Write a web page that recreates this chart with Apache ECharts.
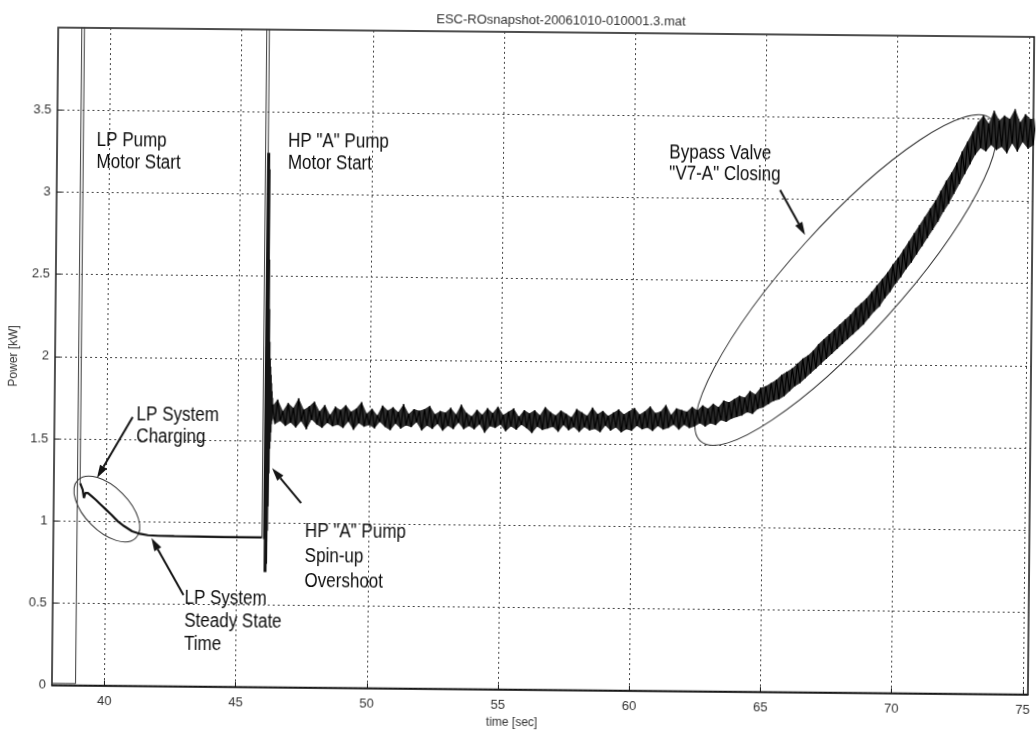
<!DOCTYPE html>
<html>
<head>
<meta charset="utf-8">
<script src="https://cdn.jsdelivr.net/npm/echarts@6/dist/echarts.min.js"></script>
<style>
  html, body { margin: 0; padding: 0; background: #fff; overflow: hidden; }
  #chart { width: 1036px; height: 734px; transform: rotate(0.55deg); transform-origin: 50% 50%; }
</style>
</head>
<body>
<div id="chart"></div>
<script>
// ---- axis ticks ----
const xTicks = [40, 45, 50, 55, 60, 65, 70, 75];
const yTicks = [0, 0.5, 1, 1.5, 2, 2.5, 3, 3.5];

// ---- idle, then LP pump motor start transient (time [s], power [kW]) ----
const lpStartTime  = [38.0, 38.5, 38.9, 38.9, 39.0, 39.0];
const lpStartPower = [0.01, 0.01, 0.01, 6.0, 6.0, 1.23];

// ---- LP system charging and steady state ----
const lpTime  = [39.0, 39.1, 39.15, 39.2, 39.3, 39.45, 39.6, 39.8, 40.0, 40.2, 40.45, 40.7, 41.0, 41.3, 41.6, 42.0, 42.6, 43.5, 44.5, 45.2, 45.95];
const lpPower = [1.23, 1.19, 1.14, 1.17, 1.17, 1.15, 1.13, 1.10, 1.07, 1.04, 1.00, 0.97, 0.94, 0.925, 0.917, 0.914, 0.913, 0.912, 0.910, 0.910, 0.91];

// ---- HP "A" pump motor start transient ----
const hpStartTime  = [45.95, 45.95, 46.05, 46.05];
const hpStartPower = [0.91, 6.0, 6.0, 0.90];

// ---- HP "A" pump spin-up overshoot ----
const hpTime  = [46.05, 46.07, 46.08, 46.09, 46.10, 46.11, 46.12, 46.13, 46.14, 46.15, 46.16, 46.17, 46.18, 46.19, 46.20, 46.21, 46.22, 46.23, 46.24, 46.25, 46.26, 46.27, 46.28, 46.29];
const hpPower = [0.90, 3.25, 0.70, 3.15, 0.75, 2.60, 0.95, 2.30, 1.10, 2.10, 1.30, 2.00, 1.45, 1.95, 1.50, 1.90, 1.55, 1.85, 1.60, 1.80, 1.62, 1.76, 1.63, 1.72];

// ---- HP running: sampled power from 46.3 s, one sample every 0.1 s ----
const runStart = 46.3;
const runStep = 0.1;
const runPower = [
  1.71, 1.60, 1.75, 1.62, 1.68, 1.59, 1.73,
  1.61, 1.70, 1.58, 1.76, 1.62, 1.69, 1.57, 1.71, 1.63, 1.74,
  1.60, 1.68, 1.58, 1.72, 1.61, 1.66, 1.59, 1.71, 1.60, 1.69,
  1.58, 1.72, 1.62, 1.68, 1.57, 1.70, 1.61, 1.74, 1.59, 1.67,
  1.60, 1.70, 1.58, 1.66, 1.62, 1.72, 1.59, 1.69, 1.57, 1.71,
  1.61, 1.68, 1.58, 1.73, 1.60, 1.67, 1.59, 1.70, 1.62, 1.69,
  1.57, 1.70, 1.60, 1.72, 1.58, 1.67, 1.61, 1.69, 1.57, 1.68,
  1.60, 1.71, 1.58, 1.67, 1.62, 1.73, 1.58, 1.68, 1.60, 1.66,
  1.58, 1.70, 1.61, 1.67, 1.56, 1.71, 1.60, 1.68, 1.59, 1.72,
  1.61, 1.67, 1.57, 1.69, 1.60, 1.71, 1.58, 1.66, 1.61, 1.70,
  1.59, 1.68, 1.56, 1.70, 1.60, 1.67, 1.58, 1.72, 1.59, 1.69,
  1.60, 1.67, 1.57, 1.70, 1.61, 1.68, 1.58, 1.66, 1.60, 1.71,
  1.57, 1.69, 1.60, 1.67, 1.58, 1.72, 1.59, 1.68, 1.57, 1.70,
  1.61, 1.67, 1.58, 1.69, 1.60, 1.71, 1.57, 1.68, 1.59, 1.70,
  1.58, 1.72, 1.61, 1.68, 1.59, 1.70, 1.60, 1.73, 1.58, 1.69,
  1.61, 1.70, 1.59, 1.74, 1.60, 1.68, 1.62, 1.72, 1.59, 1.71,
  1.62, 1.70, 1.60, 1.73, 1.61, 1.71, 1.63, 1.74, 1.61, 1.72,
  1.63, 1.75, 1.62, 1.73, 1.65, 1.77, 1.64, 1.76, 1.66, 1.78,
  1.67, 1.80, 1.68, 1.79, 1.70, 1.83, 1.69, 1.81, 1.72, 1.85,
  1.73, 1.86, 1.75, 1.88, 1.77, 1.90, 1.78, 1.93, 1.80, 1.95,
  1.83, 1.97, 1.86, 2.00, 1.88, 2.03, 1.91, 2.05, 1.94, 2.08,
  1.97, 2.12, 2.00, 2.15, 2.03, 2.18, 2.06, 2.21, 2.09, 2.24,
  2.12, 2.27, 2.15, 2.30, 2.18, 2.34, 2.21, 2.37, 2.24, 2.40,
  2.28, 2.44, 2.32, 2.48, 2.35, 2.52, 2.40, 2.56, 2.44, 2.61,
  2.49, 2.65, 2.53, 2.70, 2.58, 2.75, 2.62, 2.80, 2.67, 2.85,
  2.72, 2.90, 2.77, 2.95, 2.82, 3.00, 2.87, 3.06, 2.93, 3.12,
  2.98, 3.17, 3.04, 3.23, 3.10, 3.30, 3.16, 3.36, 3.22, 3.42,
  3.28, 3.48, 3.32, 3.52, 3.30, 3.47, 3.34, 3.55, 3.31, 3.49,
  3.33, 3.52, 3.29, 3.50, 3.35, 3.56, 3.30, 3.48, 3.36, 3.53,
  3.32, 3.50, 3.34, 3.51
];

// ---- annotation texts (anchored at time [s], power [kW] of the first line) ----
const notes = [
  { lines: ['LP Pump', 'Motor Start'], at: [39.51, 3.318], gap: 22 },
  { lines: ['HP "A" Pump', 'Motor Start'], at: [46.80, 3.323], gap: 22 },
  { lines: ['LP System', 'Charging'], at: [41.13, 1.650], gap: 22 },
  { lines: ['LP System', 'Steady State', 'Time'], at: [43.02, 0.534], gap: 23 },
  { lines: ['HP "A" Pump', 'Spin-up', 'Overshoot'], at: [47.59, 0.950], gap: 25 },
  { lines: ['Bypass Valve', '"V7-A" Closing'], at: [61.34, 3.275], gap: 21 }
];
// arrows: tail -> head
const arrows = [
  { from: [40.98, 1.635], to: [39.64, 1.262] },
  { from: [42.98, 0.555], to: [41.74, 0.900] },
  { from: [47.43, 1.122], to: [46.31, 1.333] },
  { from: [65.57, 3.054], to: [66.54, 2.782] }
];
// ellipses circling the events: centre, radii in px, tilt in degrees
const rings = [
  { at: [40.03, 1.074], rx: 41, ry: 22, tilt: -44.5 },
  { at: [68.11, 2.510], rx: 217, ry: 55, tilt: 48.5 }
];

const zip = (xs, ys) => xs.map((x, i) => [x, ys[i]]);
const runData = runPower.map((v, i) => [+(runStart + i * runStep).toFixed(2), v]);
const hpData = zip(hpTime, hpPower);

const chart = echarts.init(document.getElementById('chart'), null, { renderer: 'canvas' });
const FONT = '"Liberation Sans", Arial, Helvetica, sans-serif';
const INK = '#141414';

// shaded band between the successive peaks and troughs of the running trace
function renderBand(params, api) {
  const upper = [], lower = [];
  runData.forEach((d, i) => {
    const next = runData[i + 1], prev = runData[i - 1];
    const isPeak = next ? d[1] > next[1] : d[1] > prev[1];
    (isPeak ? upper : lower).push(api.coord(d));
  });
  return {
    type: 'polygon',
    shape: { points: upper.concat(lower.reverse()) },
    style: { fill: '#2e2e2e' }
  };
}

function trace(name, data, width, color) {
  return {
    type: 'line', name, data, showSymbol: false, symbol: 'none', clip: true,
    lineStyle: { color: color || INK, width }
  };
}

chart.setOption({
  animation: false,
  backgroundColor: '#fff',
  title: {
    text: 'ESC-ROsnapshot-20061010-010001.3.mat',
    left: 428, top: 9,
    textStyle: { fontFamily: FONT, fontSize: 13, fontWeight: 'normal', color: '#333' }
  },
  grid: { left: 55, right: 1, top: 32, bottom: 44.5, show: true, borderColor: INK, borderWidth: 1.5, backgroundColor: 'transparent' },
  xAxis: {
    type: 'value', min: 38, max: 75.2,
    name: 'time [sec]', nameLocation: 'middle', nameGap: 26,
    nameTextStyle: { fontFamily: FONT, fontSize: 12, color: '#333', padding: [0, 56, 0, 0] },
    axisLine: { show: true, lineStyle: { color: INK, width: 1.5 } },
    axisTick: { show: true, inside: true, length: 5, customValues: xTicks, lineStyle: { color: INK } },
    axisLabel: { customValues: xTicks, margin: 9, fontFamily: FONT, fontSize: 13, color: '#333' },
    splitLine: { show: true, lineStyle: { type: [2, 3], color: '#444', width: 1 } }
  },
  yAxis: {
    type: 'value', min: 0, max: 4,
    name: 'Power [kW]', nameLocation: 'middle', nameGap: 32,
    nameTextStyle: { fontFamily: FONT, fontSize: 12, color: '#333' },
    axisLine: { show: true, lineStyle: { color: '#555', width: 1.5 } },
    axisTick: { show: true, inside: true, length: 5, customValues: yTicks, lineStyle: { color: INK } },
    axisLabel: { customValues: yTicks, margin: 6, fontFamily: FONT, fontSize: 13, color: '#333' },
    splitLine: { show: true, lineStyle: { type: [2, 3], color: '#444', width: 1 } }
  },
  series: [
    trace('LP start', zip(lpStartTime, lpStartPower), 1, '#3a3a3a'),
    trace('LP charging', zip(lpTime, lpPower), 2.2),
    trace('HP start', zip(hpStartTime, hpStartPower), 1, '#3a3a3a'),
    trace('HP spin-up', hpData, 3),
    { type: 'custom', name: 'HP band', data: [0], clip: true, silent: true, renderItem: renderBand },
    trace('HP running', [hpData[hpData.length - 1]].concat(runData), 1.2, '#000')
  ]
});

// annotations placed from data coordinates
function px(p) { return chart.convertToPixel({ gridIndex: 0 }, p); }
const graphics = [];
notes.forEach(n => {
  const p = px(n.at);
  n.lines.forEach((line, i) => {
    graphics.push({
      type: 'text', x: p[0], y: p[1] + i * n.gap, scaleX: 0.85,
      style: { text: line, font: '20px ' + FONT, fill: '#0d0d0d', align: 'left', verticalAlign: 'middle' },
      silent: true
    });
  });
});
arrows.forEach(a => {
  const t = px(a.from), h = px(a.to);
  const dx = h[0] - t[0], dy = h[1] - t[1];
  const len = Math.hypot(dx, dy), ux = dx / len, uy = dy / len;
  const hl = 13, hw = 4;
  const bx = h[0] - ux * hl, by = h[1] - uy * hl;
  graphics.push({ type: 'line', shape: { x1: t[0], y1: t[1], x2: bx, y2: by }, style: { stroke: '#151515', lineWidth: 2 }, silent: true });
  graphics.push({
    type: 'polygon',
    shape: { points: [[h[0], h[1]], [bx - uy * hw, by + ux * hw], [bx + uy * hw, by - ux * hw]] },
    style: { fill: '#151515' }, silent: true
  });
});
rings.forEach(r => {
  const c = px(r.at);
  graphics.push({
    type: 'ellipse', x: c[0], y: c[1], rotation: r.tilt * Math.PI / 180,
    shape: { cx: 0, cy: 0, rx: r.rx, ry: r.ry },
    style: { fill: null, stroke: '#333', lineWidth: 1 }, silent: true
  });
});
chart.setOption({ graphic: graphics });
</script>
</body>
</html>
